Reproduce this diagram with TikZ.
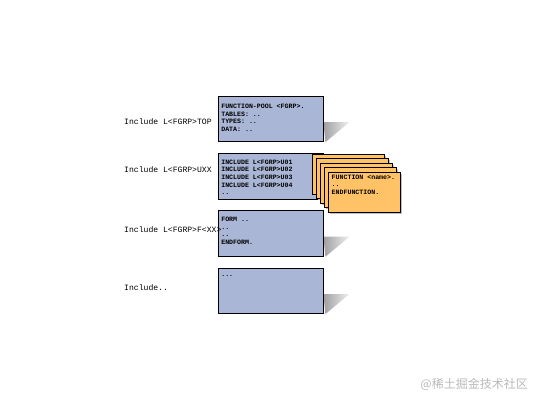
\documentclass[tikz,border=0pt]{standalone}
\usepackage{fontspec}
\usepackage{tikz}
\usetikzlibrary{positioning, backgrounds, calc}
\usepackage{xcolor}
\newfontfamily\codefont{Liberation Mono}
\newfontfamily\cjk{Noto Sans CJK SC}
\definecolor{boxblue}{RGB}{170,182,214}
\definecolor{cardorange}{RGB}{255,194,102}

\begin{document}
\begin{tikzpicture}[
  x=1pt, y=-1pt,
  codebox/.style={rectangle, draw, line width=0.8pt, fill=boxblue, minimum width=105pt, minimum height=45.5pt, inner sep=0pt},
  card/.style={rectangle, draw, line width=0.8pt, fill=cardorange, minimum width=72pt, minimum height=40pt, inner sep=0pt, anchor=north west},
  code/.style={font=\codefont\bfseries\fontsize{6.6}{7.6}\selectfont, align=left, anchor=north west, inner sep=0pt},
  lbl/.style={font=\codefont\fontsize{8.1}{9.7}\selectfont, anchor=west, inner sep=0pt},
  node distance=11pt
]
\useasboundingbox (0,0) rectangle (536,403);

% Code boxes, one under the other
\node[codebox] (pool) at (270.5,119) {};
\node[codebox, below=of pool] (uxx) {};
\node[codebox, below=of uxx] (forms) {};
\node[codebox, below=of forms] (rest) {};

% Shadows behind the boxes
\begin{scope}[on background layer]
\foreach \b in {pool,uxx,forms,rest}
  \shade[left color=gray!75, right color=gray!12] ([yshift=20pt]\b.south east) -- ++(26,0) -- ([xshift=2pt]\b.south east) -- cycle;
\end{scope}

% Box contents
\node[code] (poolcode) at ([xshift=3.5pt, yshift=-8pt]pool.north west) {FUNCTION-POOL <FGRP>.\\TABLES: ..\\TYPES: ..\\DATA: ..};
\node[code] (uxxcode) at ([xshift=3.5pt, yshift=-6.5pt]uxx.north west) {INCLUDE L<FGRP>U01\\INCLUDE L<FGRP>U02\\INCLUDE L<FGRP>U03\\INCLUDE L<FGRP>U04\\..};
\node[code] (formcode) at ([xshift=3.5pt, yshift=-6.5pt]forms.north west) {FORM ..\\..\\..\\ENDFORM.};
\node[code] (restcode) at ([xshift=3.5pt, yshift=-8pt]rest.north west) {...};

% Stack of function modules
\foreach \k in {4,3,2,1} {
  \fill[gray!50] (330-4*\k, 174-4.5*\k) rectangle ++(72,40);
  \node[card] (card\k) at (328-4*\k, 172-4.5*\k) {};
}
\fill[gray!50] (330,174) rectangle ++(72,40);
\node[card] (fn) at (328,172) {};
\node[code] (fncode) at ([xshift=3.5pt, yshift=-2.5pt]fn.north west) {FUNCTION <name>.\\..\\ENDFUNCTION.};

% Include labels
\node[lbl] (lbltop) at (124,122) {Include L<FGRP>TOP};
\node[lbl] (lbluxx) at (124,170) {Include L<FGRP>UXX};
\node[lbl] (lblform) at (124,230) {Include L<FGRP>F<XX>};
\node[lbl] (lblrest) at (124,288) {Include..};

% Watermark
\node[font=\cjk\fontsize{12}{12}\selectfont, text=gray!55, anchor=east, inner sep=0pt] (mark) at (528,384) {@稀土掘金技术社区};

\end{tikzpicture}
\end{document}
